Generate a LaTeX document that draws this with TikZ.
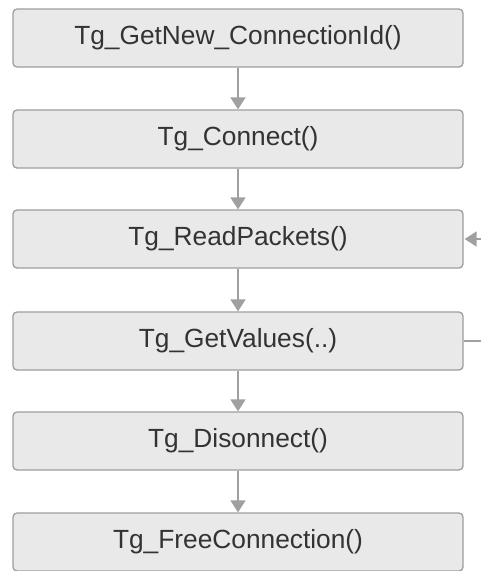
\documentclass[tikz,border=0pt]{standalone}
\usepackage{fontspec}
\setmainfont{Liberation Sans}
\usetikzlibrary{arrows.meta}
\definecolor{boxfill}{HTML}{E9E9E9}
\definecolor{boxline}{HTML}{9E9E9E}
\definecolor{txt}{HTML}{333333}
\definecolor{arr}{HTML}{A0A0A0}
\tikzset{
  fnbox/.style={draw=boxline, line width=1.3pt, fill=boxfill, rounded corners=4pt,
    minimum width=450pt, minimum height=58pt, inner sep=0pt,
    font=\fontsize{26.3}{29}\selectfont, text=txt},
  flow/.style={draw=arr, line width=1.6pt, -{Triangle[width=15pt,length=12pt]}},
  plain/.style={draw=arr, line width=1.3pt}
}
\begin{document}
\begin{tikzpicture}[x=1pt,y=-1pt]
\useasboundingbox[fill=white] (0,0) rectangle (481,571);
\node[fnbox] (b1) at (238,38) {Tg\_GetNew\_ConnectionId()};
\node[fnbox] (b2) at (238,139) {Tg\_Connect()};
\node[fnbox] (b3) at (238,239) {Tg\_ReadPackets()};
\node[fnbox] (b4) at (238,341) {Tg\_GetValues(..)};
\node[fnbox] (b5) at (238,441) {Tg\_Disonnect()};
\node[fnbox] (b6) at (238,542) {Tg\_FreeConnection()};
\draw[flow] (b1) -- (b2);
\draw[flow] (b2) -- (b3);
\draw[flow] (b3) -- (b4);
\draw[flow] (b4) -- (b5);
\draw[flow] (b5) -- (b6);
\coordinate (r3) at (483,239);
\coordinate (r4) at (483,341);
\draw[plain] (b4.east) -- (r4);
\draw[flow, shorten >=1pt] (r3) -- (b3.east);
\end{tikzpicture}
\end{document}
